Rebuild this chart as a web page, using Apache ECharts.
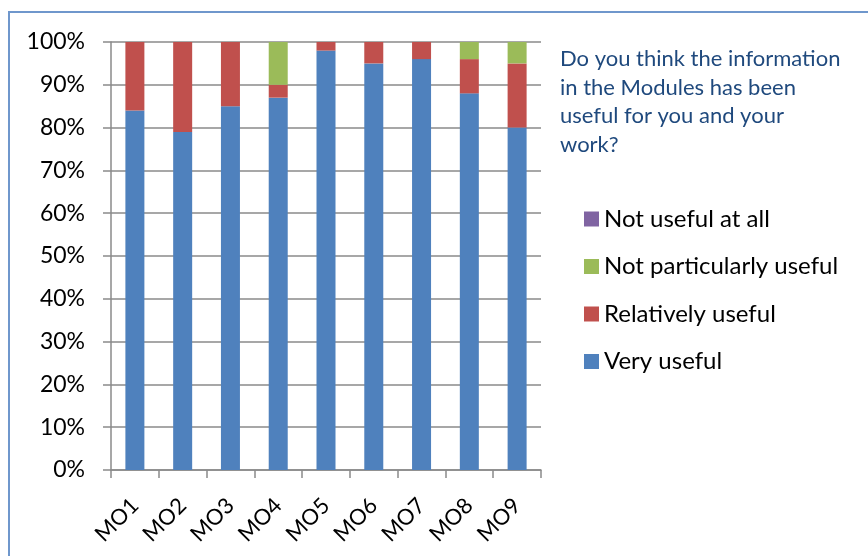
<!DOCTYPE html>
<html>
<head>
<meta charset="utf-8">
<script src="https://cdn.jsdelivr.net/npm/echarts@6/dist/echarts.min.js"></script>
<style>
html,body{margin:0;padding:0;background:#fff;}
#chart{width:868px;height:556px;}
</style>
</head>
<body>
<div id="chart"></div>
<script>
const categories = ['MO1','MO2','MO3','MO4','MO5','MO6','MO7','MO8','MO9'];
const veryUseful = [84, 79, 85, 87, 98, 95, 96, 88, 80];
const relativelyUseful = [16, 21, 15, 3, 2, 5, 4, 8, 15];
const notParticularlyUseful = [0, 0, 0, 10, 0, 0, 0, 4, 5];
const notUsefulAtAll = [0, 0, 0, 0, 0, 0, 0, 0, 0];
const yTicks = [0,10,20,30,40,50,60,70,80,90,100];

const FONT = 'Lato';
const chart = echarts.init(document.getElementById('chart'), null, {renderer:'canvas'});
const gridColor = '#8a8a8a';
const mk = (name, data, color) => ({
  name, type:'bar', stack:'total', data, barWidth:19,
  itemStyle:{color}, emphasis:{disabled:true}
});
chart.setOption({
  animation:false,
  backgroundColor:'#fff',
  title:{
    text:'Do you think the information\nin the Modules has been\nuseful for you and your\nwork?',
    left:555, top:40,
    textStyle:{fontFamily:FONT, fontSize:22, fontWeight:'normal', color:'#1F497D', lineHeight:28.5}
  },
  legend:{
    orient:'vertical', left:579, top:202,
    data:['Not useful at all','Not particularly useful','Relatively useful','Very useful'],
    itemWidth:15, itemHeight:15, itemGap:23.5,
    icon:'rect',
    textStyle:{fontFamily:FONT, fontSize:24, color:'#000', lineHeight:24}
  },
  grid:{left:111, right:327, top:42, bottom:86, containLabel:false},
  xAxis:{
    type:'category', data:categories,
    axisLine:{lineStyle:{color:gridColor, width:1.5}},
    axisTick:{show:true, length:8, lineStyle:{color:gridColor, width:1.5}},
    axisLabel:{rotate:45, fontFamily:FONT, fontSize:22, color:'#000', margin:32}
  },
  yAxis:{
    type:'value', min:0, max:100, interval:10,
    axisLine:{show:true, lineStyle:{color:gridColor, width:1.5}},
    axisTick:{show:true, length:8, lineStyle:{color:gridColor, width:1.5}},
    splitLine:{show:true, lineStyle:{color:gridColor, width:1.5}},
    axisLabel:{fontFamily:FONT, fontSize:23, color:'#000', margin:26,
      formatter:v => yTicks.includes(v) ? v + '%' : ''}
  },
  series:[
    mk('Very useful', veryUseful, '#4F81BD'),
    mk('Relatively useful', relativelyUseful, '#C0504D'),
    mk('Not particularly useful', notParticularlyUseful, '#9BBB59'),
    mk('Not useful at all', notUsefulAtAll, '#8064A2')
  ],
  graphic:[{
    type:'polyline', silent:true,
    shape:{points:[[9,556],[9,12],[868,12]]},
    style:{stroke:'#6F97CC', lineWidth:2, fill:null}
  }]
});
</script>
</body>
</html>
